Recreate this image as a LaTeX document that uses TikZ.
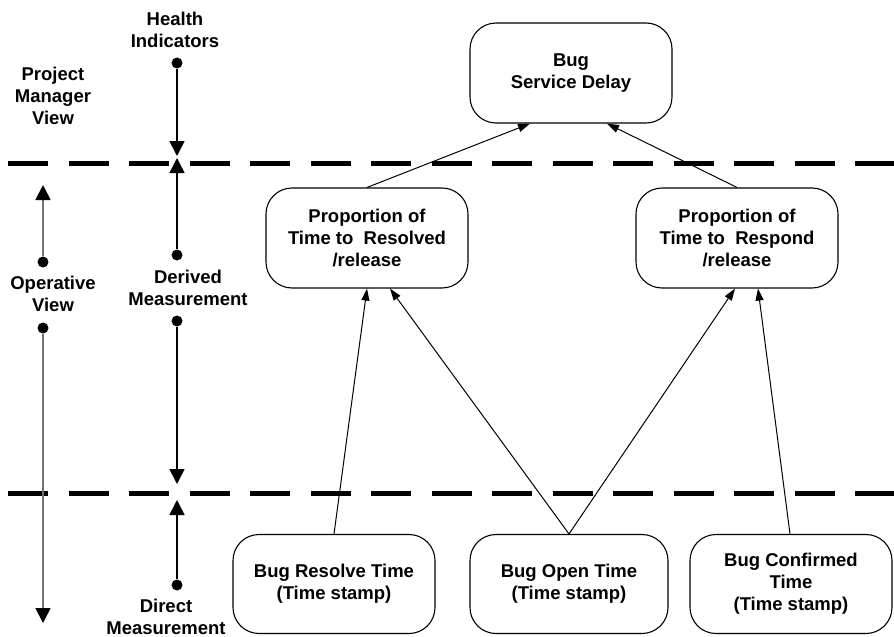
\documentclass[tikz,border=0pt]{standalone}
\usepackage{fontspec}
\setmainfont{Liberation Sans}
\usetikzlibrary{arrows.meta}
\begin{document}
\begin{tikzpicture}[x=1pt,y=-1pt,
  box/.style={draw, line width=1.1pt, rounded corners=26pt, minimum width=202pt,
    minimum height=100pt, align=center, inner sep=0pt,
    font=\fontsize{18.5}{22}\selectfont\bfseries},
  lbl/.style={align=center, inner sep=0pt, font=\fontsize{18.5}{22}\selectfont\bfseries},
  dotnode/.style={circle, fill=black, inner sep=0pt, minimum size=11pt},
  gdot/.style={circle, fill=black, inner sep=0pt, minimum size=11pt},
  conn/.style={line width=1pt, -{Triangle[length=12pt,width=8pt]}},
  vw/.style={line width=1.6pt, -{Triangle[length=15pt,width=15pt]}},
  gvw/.style={line width=1.8pt, draw=black!55, -{Triangle[length=15pt,width=15pt,fill=black,color=black]}},
  sepline/.style={line width=5pt, dash pattern=on 40pt off 20.5pt}]
\useasboundingbox (0,0) rectangle (894,637);
\fill[white] (0,0) rectangle (894,637);

% separator lines
\coordinate (s1a) at (8,163);
\coordinate (s1b) at (894,163);
\coordinate (s2a) at (8,493);
\coordinate (s2b) at (894,493);
\draw[sepline] (s1a) -- (s1b);
\draw[sepline] (s2a) -- (s2b);

% boxes
\node[box] (bsd) at (571,73) {Bug\\Service Delay};
\node[box] (res) at (367,238) {Proportion of\\Time to~ Resolved\\/release};
\node[box] (rsp) at (737,238) {Proportion of\\Time to~ Respond\\/release};
\node[box, minimum height=99pt] (brt) at (334,584) {Bug Resolve Time\\(Time stamp)};
\node[box, minimum height=99pt, minimum width=198pt] (bot) at (569,584) {Bug Open Time\\(Time stamp)};
\node[box, minimum height=99pt] (bct) at (791,584) {Bug Confirmed\\Time\\(Time stamp)};

% connectors
\draw[conn] (res.north) -- ([xshift=-41pt]bsd.south);
\draw[conn] (rsp.north) -- ([xshift=36pt]bsd.south);
\draw[conn] (brt.north) -- (res.south);
\draw[conn] (bot.north) -- ([xshift=23pt]res.south);
\draw[conn] (bot.north) -- ([xshift=-2pt]rsp.south);
\draw[conn] ([xshift=-1pt]bct.north) -- ([xshift=21pt]rsp.south);

% left labels
\node[lbl] (hi) at (175,30) {Health\\Indicators};
\node[lbl] (pmv) at (53,96) {Project\\Manager\\View};
\node[lbl] (ov) at (53,294) {Operative\\View};
\node[lbl] (dm) at (188,288) {Derived\\Measurement};
\node[lbl] (dir) at (166,617) {Direct\\Measurement};

% dots
\node[dotnode] (d1) at (177,63) {};
\node[dotnode] (d2) at (177,255) {};
\node[dotnode] (d3) at (177,321) {};
\node[dotnode] (d4) at (177,585) {};
\node[gdot] (g1) at (43,262) {};
\node[gdot] (g2) at (43,328) {};

\coordinate (t1) at (177,156);
\coordinate (t2) at (177,158);
\coordinate (t3) at (177,484);
\coordinate (t4) at (177,500);
\coordinate (u1) at (43,185);
\coordinate (u2) at (43,623);

\draw[vw] (d1) -- (t1);
\draw[vw] (d2) -- (t2);
\draw[vw] (d3) -- (t3);
\draw[vw] (d4) -- (t4);
\draw[gvw] (g1) -- (u1);
\draw[gvw] (g2) -- (u2);
\end{tikzpicture}
\end{document}
